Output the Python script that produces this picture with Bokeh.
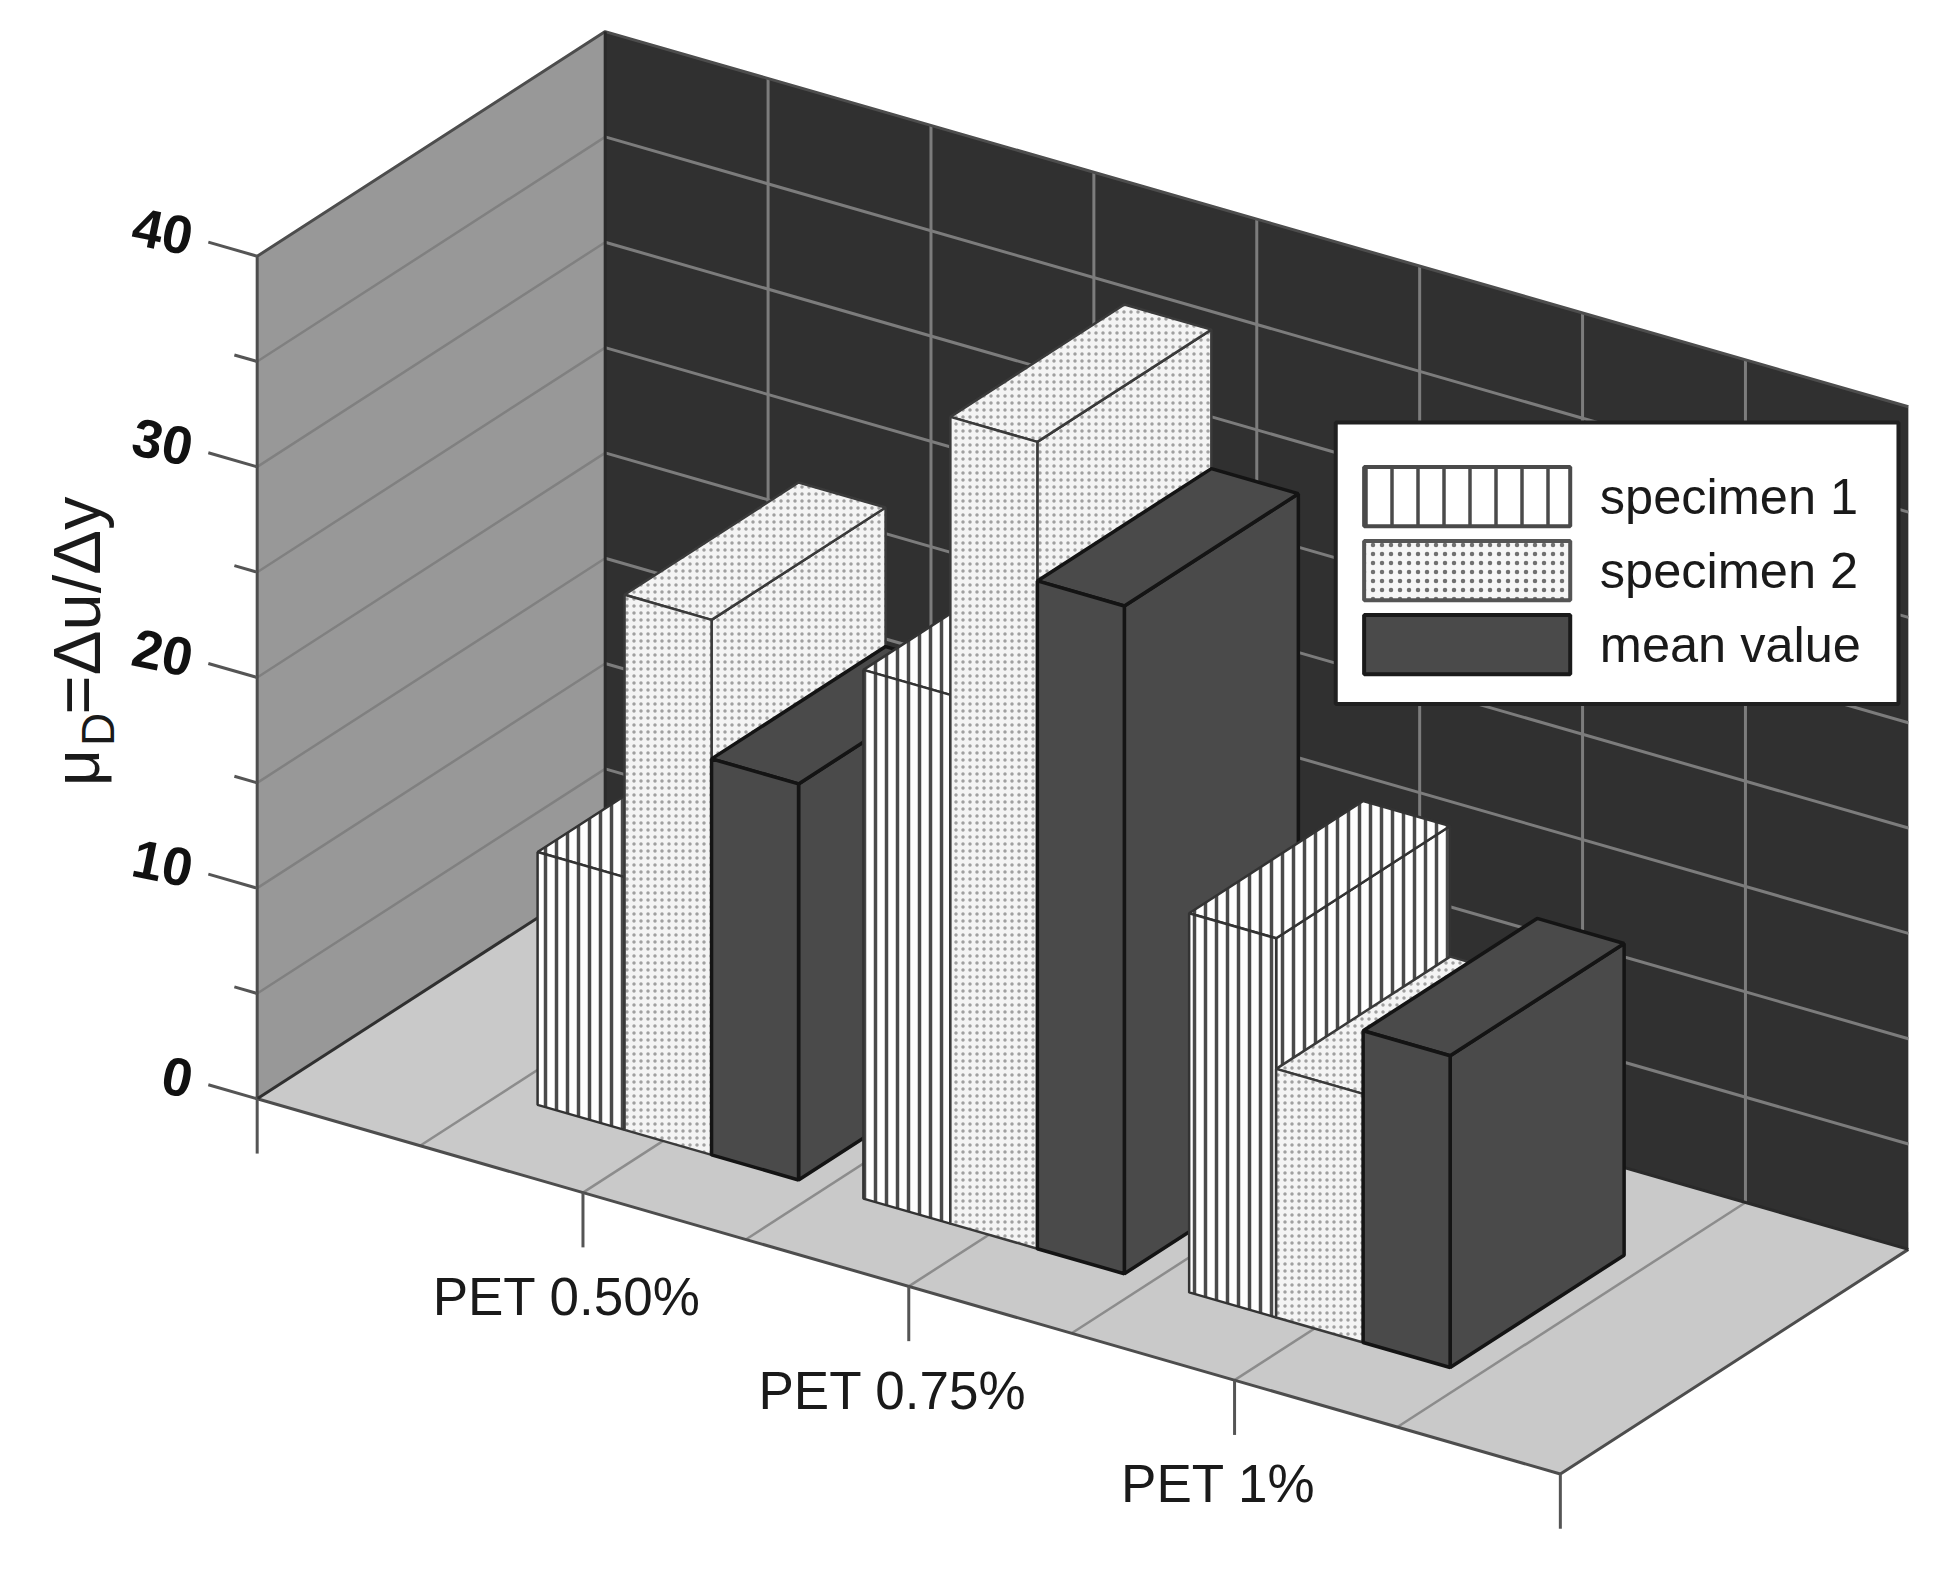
import numpy as np
from bokeh.plotting import figure
from bokeh.models import Range1d
from bokeh.core.properties import value
from bokeh.embed import file_html
from bokeh.resources import INLINE

categories = ["PET 0.50%", "PET 0.75%", "PET 1%"]
specimen_1 = [12.0, 25.1, 18.0]
specimen_2 = [25.4, 38.3, 11.8]
mean_value = [18.8, 31.7, 14.8]
series_names = ["specimen 1", "specimen 2", "mean value"]
z_major = [0, 10, 20, 30, 40]
z_minor = [5, 15, 25, 35]
z_labels = ["0", "10", "20", "30", "40"]
x_ticks = [0, 1, 2, 3, 4]
x_grid = [0.5, 1, 1.5, 2, 2.5, 3, 3.5]

S = 1935 / 1568
ORIGIN = np.array([208.0, 890.0]) * S
EX = np.array([264.0, 76.0]) * S      # one category
EY = np.array([282.0, -182.0]) * S    # full depth
EZ = np.array([0.0, -17.07]) * S      # one value unit


def proj(x, y, z):
    pt = ORIGIN + x * EX + y * EY + z * EZ
    return float(pt[0]), float(pt[1])


def xs_ys(points):
    pts = [proj(*q) for q in points]
    return [a for a, _ in pts], [b for _, b in pts]


p = figure(width=1919, height=1558, x_range=Range1d(0, 1919), y_range=Range1d(1558, 0),
           output_backend="svg", toolbar_location=None, min_border=0)
p.axis.visible = False
p.grid.visible = False
p.outline_line_color = None
p.background_fill_color = "white"

DARK = "#303030"
WALL = "#989898"
FLOOR = "#c9c9c9"
BAR = "#4a4a4a"
EDGE = "#4d4d4d"

# planes
for pts, col in [
    ([(0, 1, 0), (4, 1, 0), (4, 1, 40), (0, 1, 40)], DARK),
    ([(0, 0, 0), (0, 1, 0), (0, 1, 40), (0, 0, 40)], WALL),
    ([(0, 0, 0), (4, 0, 0), (4, 1, 0), (0, 1, 0)], FLOOR),
]:
    a, b = xs_ys(pts)
    p.patch(a, b, fill_color=col, line_color=None)

# grid lines
for z in z_major[1:-1] + z_minor:
    a, b = xs_ys([(0, 0, z), (0, 1, z)])
    p.line(a, b, line_color="#808080", line_width=2.5)
    a, b = xs_ys([(0, 1, z), (4, 1, z)])
    p.line(a, b, line_color="#7c7c7c", line_width=3)
for x in x_grid:
    a, b = xs_ys([(x, 1, 0), (x, 1, 40)])
    p.line(a, b, line_color="#7c7c7c", line_width=3)
    a, b = xs_ys([(x, 0, 0), (x, 1, 0)])
    p.line(a, b, line_color="#8c8c8c", line_width=2.5)

# frame edges
for pts, col in [
    ([(0, 0, 0), (0, 0, 40), (0, 1, 40), (4, 1, 40)], EDGE),
    ([(0, 0, 0), (4, 0, 0), (4, 1, 0)], EDGE),
    ([(0, 0, 0), (0, 1, 0)], "#303030"),
    ([(0, 1, 0), (4, 1, 0)], "#2a2a2a"),
    ([(0, 1, 0), (0, 1, 40)], "#2a2a2a"),
]:
    a, b = xs_ys(pts)
    p.line(a, b, line_color=col, line_width=3)

# ticks
for z in z_major:
    a, b = xs_ys([(0, 0, z), (-0.15, 0, z)])
    p.line(a, b, line_color="#555555", line_width=3)
for z in z_minor:
    a, b = xs_ys([(0, 0, z), (-0.07, 0, z)])
    p.line(a, b, line_color="#555555", line_width=3)
for x in x_ticks:
    a, b = xs_ys([(x, 0, 0), (x, 0, -2.6)])
    p.line(a, b, line_color="#555555", line_width=3)

BAR_W = 0.267
FIRST = -0.385
Y0, Y1 = 0.23, 0.73
styles = [
    dict(fill_color="white", hatch_pattern="vertical_line", hatch_scale=11, hatch_weight=3.5,
         hatch_color="#4a4a4a", line_color="#333333", line_width=2.5),
    dict(fill_color="#f4f4f4", hatch_pattern="dot", hatch_scale=7, hatch_weight=2.6,
         hatch_color="#a0a0a0", line_color="#3a3a3a", line_width=2.5),
    dict(fill_color=BAR, line_color="#141414", line_width=3.5),
]
legend_styles = [
    dict(fill_color="white", hatch_pattern="vertical_line", hatch_scale=26, hatch_weight=3.5,
         hatch_color="#4a4a4a", line_color="#4a4a4a", line_width=4),
    dict(fill_color="#f6f6f6", hatch_pattern="dot", hatch_scale=9, hatch_weight=2.5,
         hatch_color="#707070", line_color="#555555", line_width=4),
    dict(fill_color=BAR, line_color="#1a1a1a", line_width=4),
]

# bars, painted left to right
for c, cat in enumerate(categories):
    centre = c + 1
    for k, series in enumerate([specimen_1, specimen_2, mean_value]):
        x0 = centre + FIRST + k * BAR_W
        x1 = x0 + BAR_W
        h = series[c]
        for face in (
            [(x1, Y0, 0), (x1, Y1, 0), (x1, Y1, h), (x1, Y0, h)],
            [(x0, Y0, h), (x1, Y0, h), (x1, Y1, h), (x0, Y1, h)],
            [(x0, Y0, 0), (x1, Y0, 0), (x1, Y0, h), (x0, Y0, h)],
        ):
            a, b = xs_ys(face)
            p.patch(a, b, **styles[k])

ff = value("Liberation Sans")

# value tick labels
zx, zy = [], []
for z in z_major:
    a, b = proj(-0.2, 0, z)
    zx.append(a)
    zy.append(b)
p.text(zx, zy, text=z_labels, text_font=ff, text_font_style="bold",
       text_font_size="54px", text_color="#111111", text_align="right", text_baseline="middle",
       angle=-0.2)

# category labels
cx, cy = [], []
for i in range(3):
    a, b = proj(i + 1 - 0.05, 0, -5.15)
    cx.append(a)
    cy.append(b)
p.text(cx, cy, text=categories, text_font=ff, text_font_size="53px",
       text_color="#1a1a1a", text_align="center", text_baseline="middle")

# axis title
p.text([76], [767], text=["μ"], text_font=ff, text_font_size="64px", text_color="#1a1a1a", angle=np.pi/2,
       text_align="center", text_baseline="alphabetic")
p.text([97], [729], text=["D"], text_font=ff, text_font_size="46px", text_color="#1a1a1a", angle=np.pi/2,
       text_align="center", text_baseline="alphabetic")
p.text([76], [714], text=["=Δu/Δy"], text_font=ff, text_font_size="67px", text_color="#1a1a1a", angle=np.pi/2,
       text_align="left", text_baseline="alphabetic")

# legend
p.quad(left=[1082*S], right=[1538*S], top=[342*S], bottom=[570*S], fill_color="white",
       line_color="#202020", line_width=4)
row_tops = [378, 438, 498]
for k, name in enumerate(series_names):
    t = row_tops[k] * S
    d = 48 * S
    p.quad(left=[1105*S], right=[1272*S], top=[t], bottom=[t + d], **legend_styles[k])
    p.text([1296*S], [t + d/2], text=[name], text_font=ff, text_font_size="50.5px", text_color="#1a1a1a",
           text_align="left", text_baseline="middle")

open("out.html", "w").write(file_html(p, INLINE))
